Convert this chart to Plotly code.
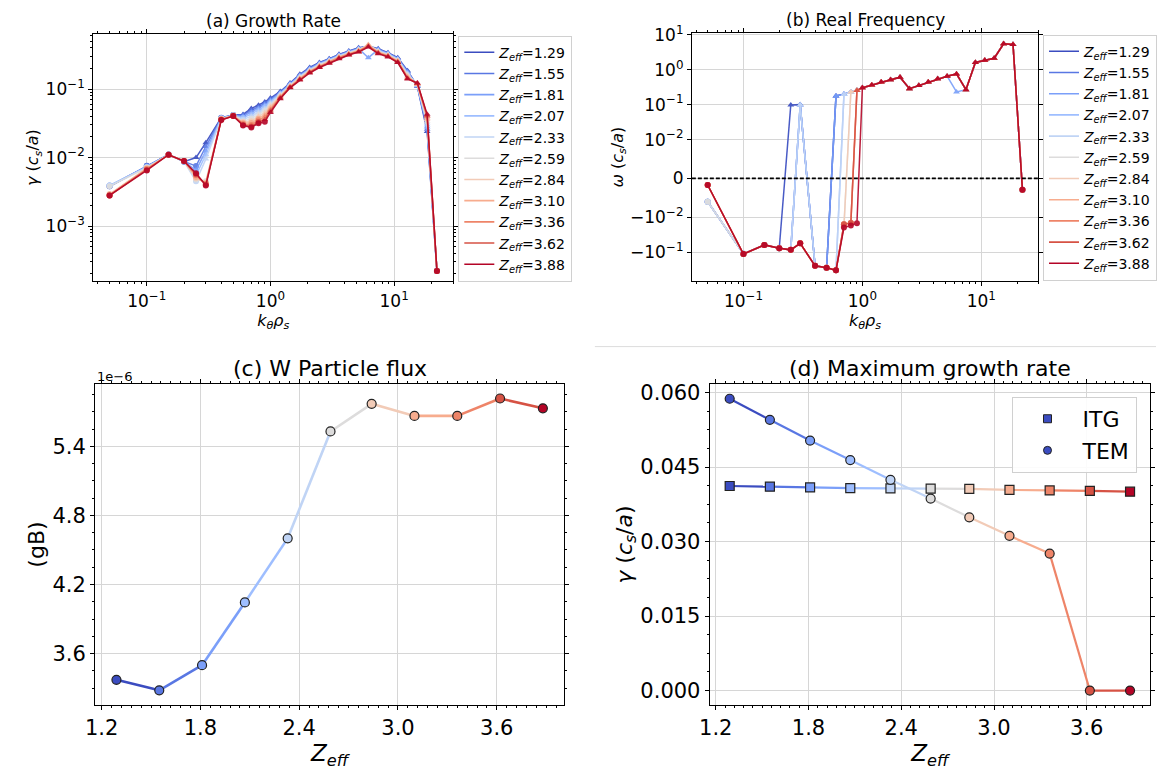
import plotly.graph_objects as go
import math

W, H = 1157, 776
FONT = "DejaVu Sans"

# ---------------- data ----------------
zeff = [1.29, 1.55, 1.81, 2.07, 2.33, 2.59, 2.84, 3.10, 3.36, 3.62, 3.88]
colors = ["#3b4cc0", "#5977e3", "#7b9ff9", "#9ebeff", "#c0d4f5", "#dddcdc",
          "#f2cbb7", "#f7ac8e", "#ee8468", "#d65244", "#b40426"]

k_theta = [0.05, 0.1, 0.15, 0.2, 0.25, 0.3, 0.4, 0.5, 0.6, 0.7, 0.8, 0.9, 1.0,
           1.2, 1.44, 1.728, 2.074, 2.488, 2.986, 3.583, 4.3, 5.16, 6.19, 7.43,
           8.92, 10.70, 12.84, 15.41, 18.49, 22.19]

g129 = [0.0038, 0.0076, 0.0111, 0.0087, 0.0100, 0.0165, 0.0383, 0.0418, 0.0427, 0.0521, 0.0582, 0.0650, 0.0741, 0.0925, 0.123, 0.165, 0.207, 0.245, 0.279, 0.322, 0.360, 0.402, 0.425, 0.389, 0.340, 0.288, 0.186, 0.110, 0.024, 0.00022]
g155 = [0.0038, 0.0075, 0.0111, 0.0088, 0.0075, 0.0145, 0.0380, 0.0417, 0.0415, 0.0490, 0.0550, 0.0620, 0.0710, 0.0900, 0.121, 0.161, 0.203, 0.241, 0.275, 0.318, 0.355, 0.397, 0.420, 0.383, 0.335, 0.283, 0.181, 0.111, 0.026, 0.00022]
g181 = [0.0039, 0.0074, 0.0111, 0.0088, 0.0065, 0.0125, 0.0377, 0.0415, 0.0400, 0.0460, 0.0520, 0.0590, 0.0680, 0.0880, 0.119, 0.158, 0.199, 0.237, 0.271, 0.313, 0.351, 0.391, 0.288, 0.377, 0.331, 0.279, 0.176, 0.112, 0.028, 0.00022]
g207 = [0.0039, 0.0073, 0.0111, 0.0088, 0.0055, 0.0110, 0.0374, 0.0414, 0.0380, 0.0430, 0.0490, 0.0560, 0.0650, 0.0860, 0.117, 0.155, 0.195, 0.233, 0.267, 0.309, 0.346, 0.386, 0.430, 0.371, 0.326, 0.274, 0.171, 0.114, 0.030, 0.00022]
g233 = [0.0039, 0.0072, 0.0110, 0.0088, 0.0045, 0.0095, 0.0371, 0.0412, 0.0360, 0.0400, 0.0460, 0.0520, 0.0620, 0.0840, 0.115, 0.152, 0.191, 0.229, 0.263, 0.305, 0.342, 0.380, 0.435, 0.365, 0.322, 0.270, 0.166, 0.115, 0.032, 0.00022]
g259 = [0.0038, 0.0071, 0.0110, 0.0089, 0.0048, 0.0045, 0.0368, 0.0411, 0.0340, 0.0370, 0.0430, 0.0490, 0.0590, 0.0820, 0.113, 0.149, 0.187, 0.225, 0.259, 0.300, 0.337, 0.375, 0.440, 0.359, 0.317, 0.265, 0.161, 0.116, 0.034, 0.00022]
g284 = [0.0029, 0.0070, 0.0110, 0.0089, 0.0050, 0.0043, 0.0365, 0.0410, 0.0330, 0.0340, 0.0400, 0.0450, 0.0560, 0.0800, 0.111, 0.146, 0.184, 0.221, 0.255, 0.296, 0.333, 0.369, 0.448, 0.353, 0.313, 0.261, 0.156, 0.117, 0.036, 0.00022]
g310 = [0.0029, 0.0069, 0.0110, 0.0089, 0.0052, 0.0042, 0.0362, 0.0408, 0.0320, 0.0320, 0.0370, 0.0420, 0.0530, 0.0780, 0.109, 0.143, 0.181, 0.217, 0.251, 0.292, 0.328, 0.364, 0.440, 0.347, 0.308, 0.257, 0.151, 0.119, 0.038, 0.00022]
g336 = [0.0028, 0.0068, 0.0110, 0.0089, 0.0055, 0.0041, 0.0359, 0.0407, 0.0310, 0.0300, 0.0350, 0.0390, 0.0500, 0.0760, 0.107, 0.140, 0.178, 0.213, 0.247, 0.288, 0.324, 0.358, 0.430, 0.341, 0.304, 0.252, 0.146, 0.120, 0.040, 0.00022]
g362 = [0.0028, 0.0066, 0.0110, 0.0089, 0.0057, 0.0040, 0.0357, 0.0405, 0.0300, 0.0285, 0.0330, 0.0360, 0.0480, 0.0740, 0.106, 0.138, 0.175, 0.210, 0.243, 0.283, 0.319, 0.353, 0.420, 0.336, 0.299, 0.248, 0.143, 0.122, 0.041, 0.00022]
g388 = [0.0028, 0.0065, 0.0110, 0.0089, 0.0059, 0.0039, 0.0354, 0.0404, 0.0294, 0.0275, 0.0317, 0.0335, 0.0456, 0.0726, 0.1045, 0.136, 0.172, 0.207, 0.239, 0.279, 0.315, 0.348, 0.411, 0.330, 0.295, 0.244, 0.141, 0.123, 0.0428, 0.00022]

w129 = [-0.0060, -0.112, -0.062, -0.077, 0.098, 0.100, -0.246, -0.280, 0.178, 0.198, 0.231, 0.257, 0.305, 0.362, 0.441, 0.513, 0.610, 0.286, 0.355, 0.441, 0.547, 0.650, 0.757, 0.268, 1.61, 1.87, 2.13, 5.5, 5.3, -0.0029]
w155 = [-0.0060, -0.112, -0.062, -0.078, -0.086, 0.099, -0.246, -0.280, 0.177, 0.198, 0.231, 0.257, 0.305, 0.362, 0.441, 0.513, 0.610, 0.286, 0.355, 0.441, 0.547, 0.650, 0.757, 0.268, 1.61, 1.87, 2.13, 5.5, 5.3, -0.0029]
w181 = [-0.0060, -0.112, -0.062, -0.078, -0.086, 0.098, -0.246, -0.280, 0.176, 0.198, 0.231, 0.257, 0.305, 0.362, 0.441, 0.513, 0.610, 0.286, 0.355, 0.441, 0.547, 0.650, 0.230, 0.268, 1.61, 1.87, 2.13, 5.5, 5.3, -0.0029]
w207 = [-0.0060, -0.112, -0.062, -0.078, -0.086, 0.098, -0.246, -0.280, -0.330, 0.197, 0.231, 0.257, 0.305, 0.362, 0.441, 0.513, 0.610, 0.286, 0.355, 0.441, 0.547, 0.650, 0.757, 0.268, 1.61, 1.87, 2.13, 5.5, 5.3, -0.0029]
w233 = [-0.0060, -0.112, -0.062, -0.078, -0.086, 0.098, -0.246, -0.280, -0.330, 0.196, 0.231, 0.257, 0.305, 0.362, 0.441, 0.513, 0.610, 0.286, 0.355, 0.441, 0.547, 0.650, 0.757, 0.268, 1.61, 1.87, 2.13, 5.5, 5.3, -0.0029]
w259 = [-0.0060, -0.112, -0.062, -0.078, -0.086, -0.056, -0.246, -0.280, -0.330, -0.018, 0.230, 0.257, 0.305, 0.362, 0.441, 0.513, 0.610, 0.286, 0.355, 0.441, 0.547, 0.650, 0.757, 0.268, 1.61, 1.87, 2.13, 5.5, 5.3, -0.0029]
w284 = [-0.0017, -0.113, -0.062, -0.077, -0.086, -0.056, -0.246, -0.280, -0.330, -0.018, 0.229, 0.257, 0.305, 0.362, 0.441, 0.513, 0.610, 0.286, 0.355, 0.441, 0.547, 0.650, 0.757, 0.268, 1.61, 1.87, 2.13, 5.5, 5.3, -0.0029]
w310 = [-0.0017, -0.113, -0.062, -0.077, -0.086, -0.056, -0.246, -0.280, -0.330, -0.016, -0.0146, 0.256, 0.305, 0.362, 0.441, 0.513, 0.610, 0.286, 0.355, 0.441, 0.547, 0.650, 0.757, 0.268, 1.61, 1.87, 2.13, 5.5, 5.3, -0.0029]
w336 = [-0.0017, -0.113, -0.062, -0.077, -0.086, -0.056, -0.246, -0.280, -0.330, -0.016, -0.0146, 0.255, 0.305, 0.362, 0.441, 0.513, 0.610, 0.286, 0.355, 0.441, 0.547, 0.650, 0.757, 0.268, 1.61, 1.87, 2.13, 5.5, 5.3, -0.0029]
w362 = [-0.0017, -0.113, -0.062, -0.077, -0.086, -0.056, -0.246, -0.280, -0.330, -0.016, -0.0146, 0.254, 0.305, 0.362, 0.441, 0.513, 0.610, 0.286, 0.355, 0.441, 0.547, 0.650, 0.757, 0.268, 1.61, 1.87, 2.13, 5.5, 5.3, -0.0029]
w388 = [-0.0017, -0.113, -0.062, -0.077, -0.086, -0.056, -0.246, -0.280, -0.330, -0.0197, -0.0173, -0.0149, 0.305, 0.362, 0.441, 0.513, 0.610, 0.286, 0.355, 0.441, 0.547, 0.650, 0.757, 0.268, 1.61, 1.87, 2.13, 5.5, 5.3, -0.0029]

gamma_series = [g129, g155, g181, g207, g233, g259, g284, g310, g336, g362, g388]
omega_series = [w129, w155, w181, w207, w233, w259, w284, w310, w336, w362, w388]

w_flux_e6 = [3.373, 3.282, 3.50, 4.045, 4.601, 5.529, 5.769, 5.664, 5.664, 5.815, 5.730]
gmax_tem = [0.05875, 0.05451, 0.05033, 0.04641, 0.04243, 0.03865, 0.03487, 0.03116, 0.02757, 0.0, 0.0]
gmax_itg = [0.04118, 0.04104, 0.04090, 0.04077, 0.04070, 0.04064, 0.04060, 0.04040, 0.04030, 0.04020, 0.04005]

# ---------------- helpers ----------------
LT = 0.01
LS = 1.0 / (1.0 - 0.1)   # matplotlib symlog linear-scale adjustment


def symlog(v):
    if abs(v) <= LT:
        return v / LT * LS
    return math.copysign(LS + math.log10(abs(v) / LT), v)


def px(p):
    return p / W


def py(p):
    return 1 - p / H


ZLAB = "<i>Z</i><sub><i>eff</i></sub>"
GLAB = "<i>γ</i> (<i>c</i><sub><i>s</i></sub>/<i>a</i>)"
WLAB = "<i>ω</i> (<i>c</i><sub><i>s</i></sub>/<i>a</i>)"
KLAB = "<i>k</i><sub><i>θ</i></sub><i>ρ</i><sub><i>s</i></sub>"

fig = go.Figure()

# ---------------- panels (a) and (b) ----------------
for i, z in enumerate(zeff):
    g = gamma_series[i]
    w = omega_series[i]
    sym = ["triangle-up" if v > 0 else "circle" for v in w]
    fig.add_trace(go.Scatter(
        x=k_theta, y=g, mode="lines+markers", xaxis="x", yaxis="y",
        line=dict(color=colors[i], width=1.5),
        marker=dict(symbol=sym, size=6, color=colors[i]),
        opacity=0.9, showlegend=False, name=f"Zeff={z:.2f}"))
    fig.add_trace(go.Scatter(
        x=k_theta, y=[symlog(v) for v in w], customdata=w,
        hovertemplate="k=%{x}<br>ω=%{customdata}<extra></extra>",
        mode="lines+markers", xaxis="x2", yaxis="y2",
        line=dict(color=colors[i], width=1.5),
        marker=dict(symbol=sym, size=6, color=colors[i]),
        opacity=0.9, showlegend=False, name=f"Zeff={z:.2f}"))

for i, z in enumerate(zeff):
    lab = f"{ZLAB}={z:.2f}"
    fig.add_trace(go.Scatter(x=[None], y=[None], mode="lines", xaxis="x", yaxis="y",
                             line=dict(color=colors[i], width=1.6), name=lab,
                             legend="legend"))
    fig.add_trace(go.Scatter(x=[None], y=[None], mode="lines", xaxis="x2", yaxis="y2",
                             line=dict(color=colors[i], width=1.6), name=lab,
                             legend="legend2"))

# ---------------- panel (c) ----------------
for j in range(len(zeff) - 1):
    fig.add_trace(go.Scatter(x=zeff[j:j + 2], y=w_flux_e6[j:j + 2], mode="lines",
                             xaxis="x3", yaxis="y3", line=dict(color=colors[j], width=2.6),
                             showlegend=False, hoverinfo="skip"))
fig.add_trace(go.Scatter(x=zeff, y=w_flux_e6, mode="markers", xaxis="x3", yaxis="y3",
                         marker=dict(color=colors, size=9, line=dict(color="#222222", width=1.2)),
                         showlegend=False))

# ---------------- panel (d) ----------------
for series, sym in ((gmax_itg, "square"), (gmax_tem, "circle")):
    for j in range(len(zeff) - 1):
        fig.add_trace(go.Scatter(x=zeff[j:j + 2], y=series[j:j + 2], mode="lines",
                                 xaxis="x4", yaxis="y4", line=dict(color=colors[j], width=2.2),
                                 showlegend=False, hoverinfo="skip"))
    fig.add_trace(go.Scatter(x=zeff, y=series, mode="markers", xaxis="x4", yaxis="y4",
                             marker=dict(symbol=sym, color=colors, size=9,
                                         line=dict(color="#222222", width=1.2)),
                             showlegend=False))

for name, sym in (("ITG", "square"), ("TEM", "circle")):
    fig.add_trace(go.Scatter(x=[None], y=[None], mode="markers", xaxis="x4", yaxis="y4",
                             marker=dict(symbol=sym, color=colors[0], size=8,
                                         line=dict(color="#222222", width=1.0)),
                             name=name, legend="legend3"))

# ---------------- axes ----------------
base = dict(showline=True, linecolor="black", linewidth=1, mirror="allticks",
            ticks="outside", ticklen=4, tickcolor="black", showgrid=True,
            gridcolor="#d6d6d6", gridwidth=1, zeroline=False,
            tickfont=dict(family=FONT, color="black"))

log_minor = [m * 10 ** e for e in range(-4, 2) for m in range(2, 10)]
sup = {-3: "10<sup>−3</sup>", -2: "10<sup>−2</sup>", -1: "10<sup>−1</sup>",
       0: "10<sup>0</sup>", 1: "10<sup>1</sup>"}
SF = 17   # tick font of panels a, b
LF = 16   # axis-title font of panels a, b

xa = dict(base, type="log", range=[-1.434, 1.479], tickvals=[0.1, 1, 10],
          ticktext=[sup[-1], sup[0], sup[1]], tickfont=dict(family=FONT, size=SF, color="black"),
          minor=dict(ticks="outside", ticklen=2, tickcolor="black", tickvals=log_minor, showgrid=False),
          title=dict(text=KLAB, font=dict(family=FONT, size=LF, color="black"), standoff=0))

fig.update_layout(
    xaxis=dict(xa, domain=[px(83), px(447)], anchor="y"),
    yaxis=dict(base, type="log", range=[-3.81, -0.19], domain=[py(275), py(24)], anchor="x",
               tickvals=[1e-3, 1e-2, 1e-1], ticktext=[sup[-3], sup[-2], sup[-1]],
               tickfont=dict(family=FONT, size=SF, color="black"),
               minor=dict(ticks="outside", ticklen=2, tickcolor="black", tickvals=log_minor, showgrid=False),
               title=dict(text=GLAB, font=dict(family=FONT, size=LF, color="black"), standoff=2)),
    xaxis2=dict(xa, domain=[px(688), px(1038)], anchor="y2"),
    yaxis2=dict(base, range=[-2.95, 4.17], domain=[py(275), py(23)], anchor="x2",
                tickvals=[symlog(v) for v in [10, 1, 0.1, 0.01, 0, -0.01, -0.1]],
                ticktext=[sup[1], sup[0], sup[-1], sup[-2], "0", "−10<sup>−2</sup>", "−10<sup>−1</sup>"],
                tickfont=dict(family=FONT, size=SF, color="black"),
                title=dict(text=WLAB, font=dict(family=FONT, size=LF, color="black"), standoff=2)),
    xaxis3=dict(base, range=[1.1605, 4.0095], domain=[px(85), px(559)], anchor="y3",
                tickvals=[1.2, 1.8, 2.4, 3.0, 3.6], ticktext=["1.2", "1.8", "2.4", "3.0", "3.6"],
                tickfont=dict(family=FONT, size=21, color="black"),
                minor=dict(ticks="outside", ticklen=2, tickcolor="black", dtick=0.06, tick0=1.2, showgrid=False),
                title=dict(text=ZLAB, font=dict(family=FONT, size=23, color="black"), standoff=0)),
    yaxis3=dict(base, range=[3.155, 5.94], domain=[py(704), py(379)], anchor="x3",
                tickvals=[3.6, 4.2, 4.8, 5.4], ticktext=["3.6", "4.2", "4.8", "5.4"],
                tickfont=dict(family=FONT, size=21, color="black"),
                minor=dict(ticks="outside", ticklen=2, tickcolor="black", dtick=0.15, tick0=3.6, showgrid=False),
                title=dict(text="(gB)", font=dict(family=FONT, size=22, color="black"), standoff=1)),
    xaxis4=dict(base, range=[1.1605, 4.0095], domain=[px(706), px(1151)], anchor="y4",
                tickvals=[1.2, 1.8, 2.4, 3.0, 3.6], ticktext=["1.2", "1.8", "2.4", "3.0", "3.6"],
                tickfont=dict(family=FONT, size=21, color="black"),
                minor=dict(ticks="outside", ticklen=2, tickcolor="black", dtick=0.06, tick0=1.2, showgrid=False),
                title=dict(text=ZLAB, font=dict(family=FONT, size=23, color="black"), standoff=0)),
    yaxis4=dict(base, range=[-0.0029, 0.0617], domain=[py(704), py(379)], anchor="x4",
                tickvals=[0.0, 0.015, 0.030, 0.045, 0.060],
                ticktext=["0.000", "0.015", "0.030", "0.045", "0.060"],
                tickfont=dict(family=FONT, size=21, color="black"),
                minor=dict(ticks="outside", ticklen=2, tickcolor="black", dtick=0.00375, tick0=0, showgrid=False),
                title=dict(text=GLAB, font=dict(family=FONT, size=22, color="black"), standoff=1)),
)

leg_common = dict(xanchor="left", yanchor="top", bordercolor="#d0d0d0", borderwidth=1,
                  bgcolor="rgba(255,255,255,0.9)", font=dict(family=FONT, size=14, color="black"),
                  tracegroupgap=0)
fig.update_layout(
    legend=dict(leg_common, x=px(452), y=py(26)),
    legend2=dict(leg_common, x=px(1043), y=py(25)),
    legend3=dict(leg_common, x=px(1011), y=py(392), itemwidth=60,
                 font=dict(family=FONT, size=22, color="black")),
)

# ---------------- titles / annotations ----------------
ann = []
for ax, txt, size in (("x", "(a) Growth Rate", 17), ("x2", "(b) Real Frequency", 17),
                      ("x3", "(c) W Particle flux", 22), ("x4", "(d) Maximum growth rate", 22)):
    yax = "y" + ax[1:]
    ann.append(dict(xref=f"{ax} domain", yref=f"{yax} domain", x=0.5, y=1.0,
                    xanchor="center", yanchor="bottom", showarrow=False, yshift=1,
                    text=txt, font=dict(family=FONT, size=size, color="black")))
ann.append(dict(xref="x3 domain", yref="y3 domain", x=0.0, y=1.0, xanchor="left",
                yanchor="bottom", showarrow=False, text="1e−6", yshift=-2,
                font=dict(family=FONT, size=13, color="black")))

fig.update_layout(
    annotations=ann,
    shapes=[
        dict(type="line", xref="x2 domain", yref="y2", x0=0, x1=1, y0=0, y1=0,
             line=dict(color="black", width=1.8, dash="4px,2px")),
        dict(type="line", xref="paper", yref="paper", x0=px(590), x1=1, y0=py(341), y1=py(341),
             line=dict(color="#dcdcdc", width=1)),
    ],
    width=W, height=H, autosize=False,
    margin=dict(l=0, r=0, t=0, b=0),
    paper_bgcolor="white", plot_bgcolor="white",
    font=dict(family=FONT, color="black"),
)

fig.write_html("out.html")
